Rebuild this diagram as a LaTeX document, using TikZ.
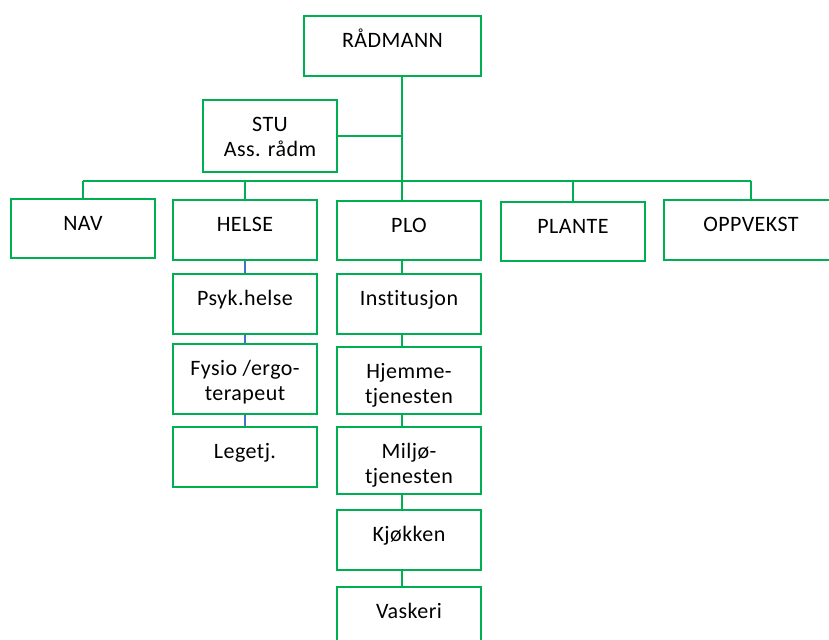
\documentclass[tikz,border=0pt]{standalone}
\usepackage{fontspec}
\setmainfont{Carlito}[Ligatures=NoCommon,LetterSpace=2]
\definecolor{orggreen}{RGB}{0,176,80}
\definecolor{subblue}{RGB}{68,114,196}

\begin{document}
\begin{tikzpicture}
[x=0.5pt,y=-0.5pt,
font=\fontsize{11}{12.5}\selectfont,
unit/.style={rectangle,draw=orggreen,line width=1pt,inner sep=0pt,
  minimum width=72pt,minimum height=30pt,align=center,
  text height=15.5pt,text depth=14.5pt},
twoline/.style={text height=28pt},
link/.style={draw=orggreen,line width=1pt},
sub/.style={draw=subblue,line width=0.9pt}]
\path[use as bounding box,clip] (0,0) rectangle (829,639);
\coordinate (trunk) at (402,0);
\coordinate (bus) at (0,181);
% top level
\node[unit,minimum width=88.5pt] (radmann) at (392.5,46) {RÅDMANN};
\node[unit,twoline,minimum width=67pt,minimum height=36pt,text depth=8pt] (stu) at (270,136) {STU\\Ass. rådm};
\node[unit,minimum height=29.5pt,text depth=14pt] (nav) at (83,228.5) {NAV};
\node[unit] (helse) at (245,230) {HELSE};
\node[unit,minimum height=29.5pt,text depth=14pt] (plo) at (409,230.5) {PLO};
\node[unit,minimum height=29.5pt,text depth=14pt] (plante) at (573,231.5) {PLANTE};
\node[unit,minimum width=87pt] (oppvekst) at (751,230) {OPPVEKST};
% helse
\node[unit] (psyk) at (245,304) {Psyk.helse}
edge [sub] (helse);
\node[unit,twoline,minimum height=35pt,text depth=7pt] (fysio) at (245,379) {Fysio /ergo-\\terapeut}
edge [sub] (psyk);
\node[unit] (legetj) at (245,457) {Legetj.}
edge [sub] (fysio);
% plo
\node[unit] (inst) at (409,304) {Institusjon};
\node[unit,twoline,minimum height=33.5pt,text depth=5.5pt] (hjemme) at (409,380.5) {Hjemme-\\tjenesten};
\node[unit,twoline,minimum height=33.5pt,text depth=5.5pt] (miljo) at (409,460.5) {Miljø-\\tjenesten};
\node[unit] (kjokken) at (409,540) {Kjøkken};
\node[unit] (vaskeri) at (409,617) {Vaskeri};
% connectors
\draw[link] (radmann.south -| trunk) -- (plo.north -| trunk);
\draw[link] (stu.east) -- (stu.east -| trunk);
\draw[link] (nav.north |- bus) -- (oppvekst.north |- bus);
\foreach \n in {nav,helse,plante,oppvekst}
  \draw[link] (\n.north |- bus) -- (\n.north);
\foreach \a/\b in {plo/inst,inst/hjemme,hjemme/miljo,miljo/kjokken,kjokken/vaskeri}
  \draw[link] (\a.south -| trunk) -- (\b.north -| trunk);
\end{tikzpicture}
\end{document}
